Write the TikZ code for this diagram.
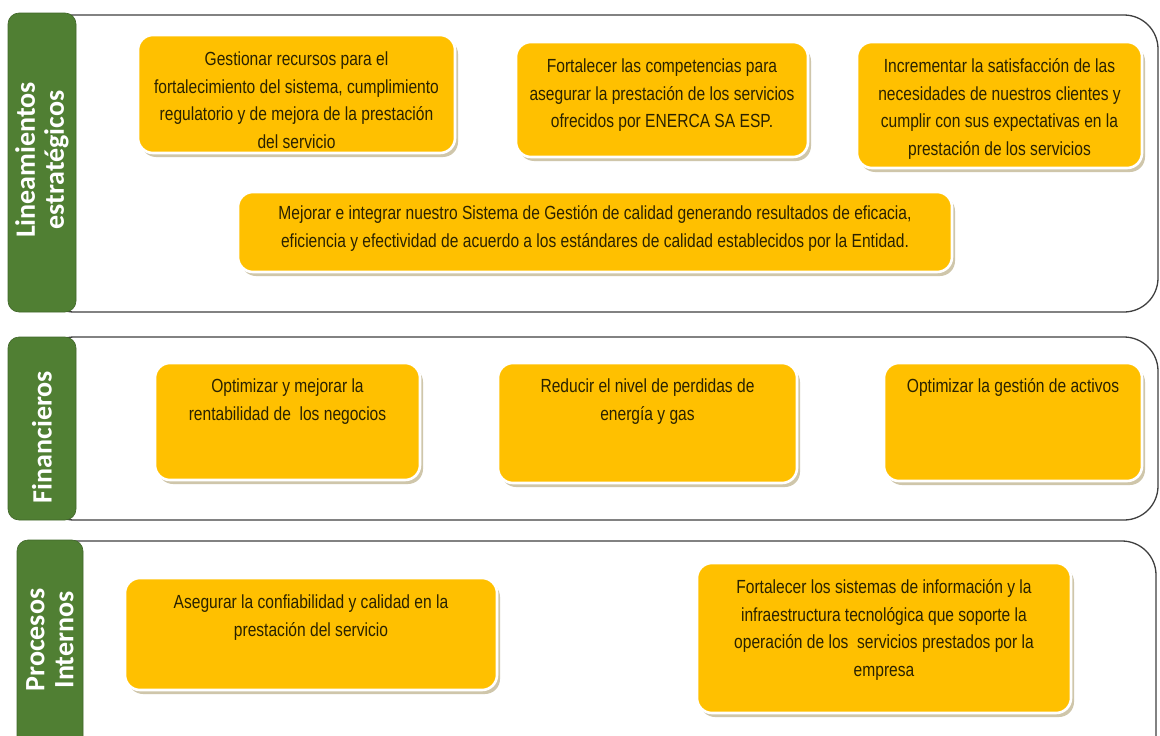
\documentclass[tikz,border=0pt]{standalone}
\usepackage{fontspec}
\usetikzlibrary{shadows}
\newfontfamily\narrowfont[FakeStretch=0.82]{Liberation Sans}
\newfontfamily\labfont{Carlito}
\definecolor{orangec}{HTML}{FFC000}
\definecolor{greenc}{HTML}{507F33}
\definecolor{shadowc}{HTML}{CFC6AA}
\definecolor{panelc}{HTML}{3F3F3F}
\definecolor{txtc}{HTML}{2A2200}
\tikzset{
  panel/.style={draw=panelc, line width=1.3pt, rounded corners=34pt},
  glab/.style={fill=greenc, draw=greenc!80!black, line width=0.6pt, rounded corners=11pt, inner sep=0pt},
  gtext/.style={rotate=90, align=center, text=white, font=\labfont\bfseries\fontsize{28}{29}\selectfont, inner sep=0pt},
  obox/.style={fill=orangec, draw=white, line width=2.6pt, rounded corners=15pt, inner sep=0pt,
    drop shadow={shadow xshift=3pt, shadow yshift=-4pt, fill=shadowc, opacity=1}},
  otext/.style={anchor=north, align=center, text=txtc, inner sep=0pt,
    font=\narrowfont\fontsize{19}{27.5}\selectfont},
}
\begin{document}
\begin{tikzpicture}[x=1pt,y=-1pt]
\useasboundingbox (0,0) rectangle (1160,736);
\clip (0,0) rectangle (1160,736);
\fill[white] (0,0) rectangle (1160,736);
% panels
\draw[panel] (40,15) rectangle (1158,312);
\draw[panel] (40,337) rectangle (1158,520);
\draw[panel] (40,541) rectangle (1156,800);
% green labels
\node[glab, minimum width=68pt, minimum height=299pt] (g1) at (42,162.5) {};
\node[gtext] (t1) at (42,160) {Lineamientos\\estratégicos};
\node[glab, minimum width=68pt, minimum height=183pt] (g2) at (42,428.5) {};
\node[gtext] (t2) at (42,437) {Financieros};
\node[glab, minimum width=66pt, minimum height=230pt] (g3) at (50,655) {};
\node[gtext] (t3) at (50,640) {Procesos\\Internos};
% orange boxes
\node[obox, minimum width=317pt, minimum height=118pt] (a) at (296.5,94) {};
\node[otext] (ta) at ([yshift=-18pt]a.north) {Gestionar recursos para el\\fortalecimiento del sistema, cumplimiento\\regulatorio y de mejora de la prestación\\del servicio};
\node[obox, minimum width=292pt, minimum height=115pt] (b) at (662,99.5) {};
\node[otext] (tb) at ([yshift=-18pt]b.north) {Fortalecer las competencias para\\asegurar la prestación de los servicios\\ofrecidos por ENERCA SA ESP.};
\node[obox, minimum width=285pt, minimum height=126pt] (c) at (999.5,105) {};
\node[otext] (tc) at ([yshift=-18pt]c.north) {Incrementar la satisfacción de las\\necesidades de nuestros clientes y\\cumplir con sus expectativas en la\\prestación de los servicios};
\node[obox, minimum width=714pt, minimum height=80pt] (d) at (595,232) {};
\node[otext] (td) at ([yshift=-15pt]d.north) {Mejorar e integrar nuestro Sistema de Gestión de calidad generando resultados de eficacia,\\eficiencia y efectividad de acuerdo a los estándares de calidad establecidos por la Entidad.};
\node[obox, minimum width=265pt, minimum height=117pt] (e) at (287.5,421.5) {};
\node[otext] (te) at ([yshift=-17pt]e.north) {Optimizar y mejorar la\\rentabilidad de\ \ los negocios};
\node[obox, minimum width=299pt, minimum height=120pt] (f) at (647.5,423) {};
\node[otext] (tf) at ([yshift=-17pt]f.north) {Reducir el nivel de perdidas de\\energía y gas};
\node[obox, minimum width=258pt, minimum height=118pt] (g) at (1013,422) {};
\node[otext] (tg) at ([yshift=-17pt]g.north) {Optimizar la gestión de activos};
\node[obox, minimum width=372pt, minimum height=112pt] (h) at (311,634) {};
\node[otext] (th) at ([yshift=-18pt]h.north) {Asegurar la confiabilidad y calidad en la\\prestación del servicio};
\node[obox, minimum width=374pt, minimum height=150pt] (i) at (884,638) {};
\node[otext] (ti) at ([yshift=-18pt]i.north) {Fortalecer los sistemas de información y la\\infraestructura tecnológica que soporte la\\operación de los\ \ servicios prestados por la\\empresa};
\end{tikzpicture}
\end{document}
